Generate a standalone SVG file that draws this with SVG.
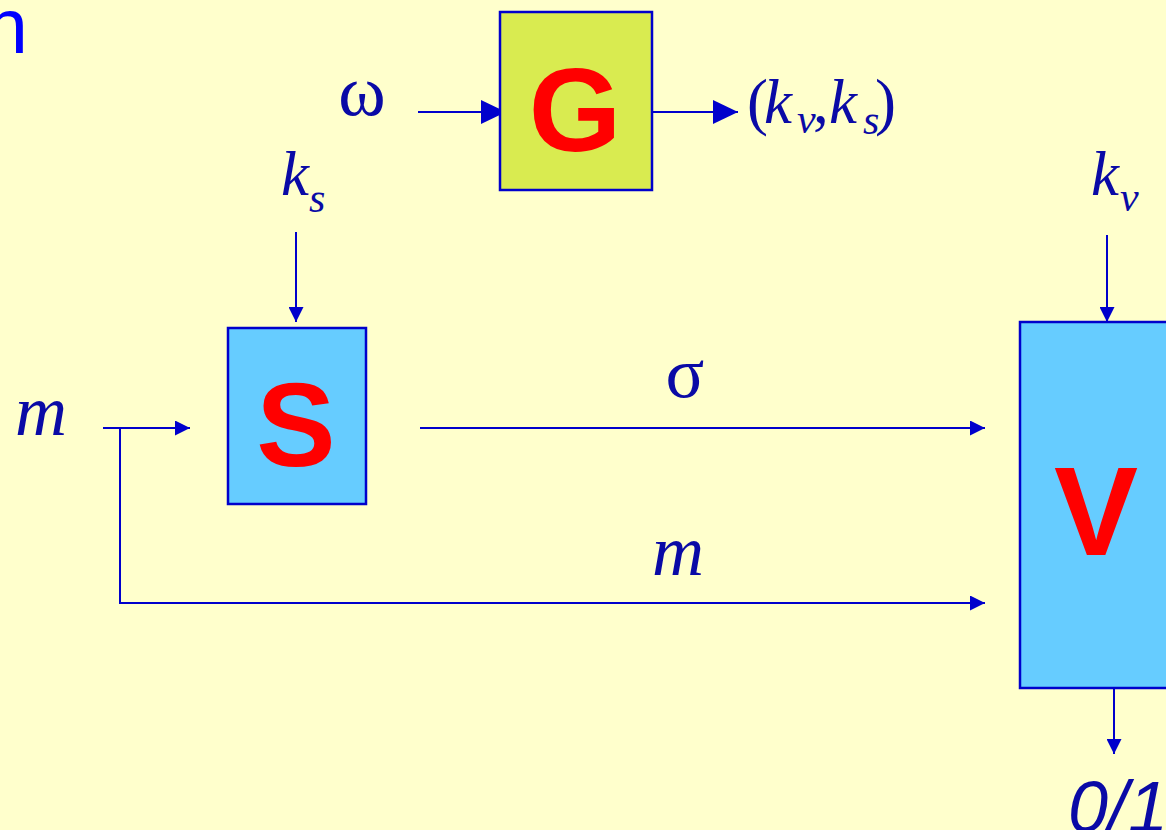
<svg xmlns="http://www.w3.org/2000/svg" width="1166" height="830" viewBox="0 0 1166 830">
  <style>
    .math { font-family: "Liberation Serif", "Times New Roman", serif; fill: #0A0AA6; }
    .it { font-style: italic; }
    .box { stroke: #0000CC; stroke-width: 2.5; }
    .big { font-family: "Liberation Sans", Arial, sans-serif; font-weight: bold; fill: #FF0000; text-anchor: middle; }
    .conn { fill: none; stroke: #0000CC; stroke-width: 2; }
  </style>
  <defs>
    <marker id="arrS" markerUnits="userSpaceOnUse" markerWidth="15" markerHeight="15" refX="15" refY="7.5" orient="auto">
      <path d="M0,0 L15,7.5 L0,15 z" fill="#0000CC"/>
    </marker>
    <marker id="arrL" markerUnits="userSpaceOnUse" markerWidth="25" markerHeight="24" refX="25" refY="12" orient="auto">
      <path d="M0,0 L25,12 L0,24 z" fill="#0000CC"/>
    </marker>
  </defs>
  <rect x="0" y="0" width="1166" height="830" fill="#FFFFCC"/>

  <text x="-15" y="53" font-family="Liberation Sans, Arial, sans-serif" font-size="77" fill="#0000FF">n</text>

  <g id="connectors">
    <line class="conn" x1="418" y1="112" x2="506" y2="112" marker-end="url(#arrL)"/>
    <line class="conn" x1="652" y1="112" x2="738" y2="112" marker-end="url(#arrL)"/>
    <line class="conn" x1="296" y1="232" x2="296" y2="322" marker-end="url(#arrS)"/>
    <line class="conn" x1="103" y1="428" x2="190" y2="428" marker-end="url(#arrS)"/>
    <polyline class="conn" points="120,428 120,603 985,603" marker-end="url(#arrS)"/>
    <line class="conn" x1="420" y1="428" x2="985" y2="428" marker-end="url(#arrS)"/>
    <line class="conn" x1="1107" y1="235" x2="1107" y2="322" marker-end="url(#arrS)"/>
    <line class="conn" x1="1114" y1="688" x2="1114" y2="754" marker-end="url(#arrS)"/>
  </g>

  <g id="node-G">
    <rect class="box" x="500" y="12" width="152" height="178" fill="#D9EB50"/>
    <text class="big" x="575" y="151" font-size="119">G</text>
  </g>
  <g id="node-S">
    <rect class="box" x="228" y="328" width="138" height="176" fill="#66CCFF"/>
    <text class="big" x="296" y="466" font-size="119">S</text>
  </g>
  <g id="node-V">
    <rect class="box" x="1020" y="322" width="160" height="366" fill="#66CCFF"/>
    <text class="big" x="1096" y="555" font-size="126">V</text>
  </g>

  <g id="labels">
    <text class="math" x="362" y="115" font-size="72" text-anchor="middle">ω</text>
    <text class="math" y="123" font-size="63"><tspan x="747">(</tspan><tspan class="it" x="764">k</tspan><tspan class="it" x="797" y="133" font-size="42">v</tspan><tspan x="813" y="123">,</tspan><tspan class="it" x="829">k</tspan><tspan class="it" x="863" y="134" font-size="42">s</tspan><tspan x="875" y="123">)</tspan></text>
    <text class="math it" y="195" font-size="63"><tspan x="281">k</tspan><tspan x="309" y="212" font-size="42">s</tspan></text>
    <text class="math it" y="195" font-size="63"><tspan x="1091">k</tspan><tspan x="1120" y="211" font-size="42">v</tspan></text>
    <text class="math it" x="15" y="435" font-size="72">m</text>
    <text class="math" x="685" y="397" font-size="72" text-anchor="middle">σ</text>
    <text class="math it" x="678" y="575" font-size="72" text-anchor="middle">m</text>
    <text x="1068" y="832" font-family="Liberation Sans, Arial, sans-serif" font-style="italic" font-size="72" fill="#0A0AA6">0/1</text>
  </g>
</svg>
